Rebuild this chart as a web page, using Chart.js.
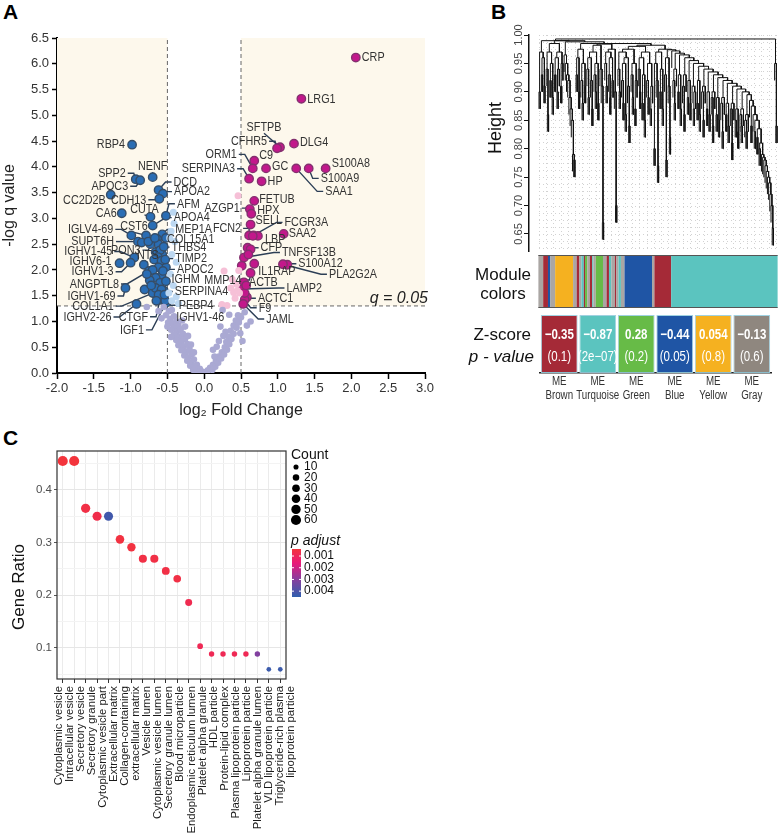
<!DOCTYPE html>
<html>
<head>
<meta charset="utf-8">
<script src="https://cdn.jsdelivr.net/npm/chart.js@4.4.0/dist/chart.umd.min.js"></script>
<style>
  body { margin: 0; background: #fff; width: 781px; height: 834px; overflow: hidden; position: relative; }
  canvas { position: absolute; }
  .tag { position: absolute; font: bold 21px "Liberation Sans", Arial, sans-serif; color: #000; }
</style>
</head>
<body>
<div class="tag" style="left:3px;top:0px">A</div>
<div class="tag" style="left:491px;top:0px">B</div>
<div class="tag" style="left:3px;top:426px">C</div>
<canvas id="volcano" width="440" height="420" style="left:0;top:0"></canvas>
<canvas id="dendro" width="321" height="312" style="left:460px;top:0"></canvas>
<canvas id="zscore" width="321" height="110" style="left:460px;top:300px"></canvas>
<canvas id="dots" width="460" height="414" style="left:0;top:420px"></canvas>
<script>
var sans = '"Liberation Sans", Arial, sans-serif';

// condensed text, like the narrow face in the figure
function narrowText(ctx, txt, x, y, align, squeeze) {
  ctx.save();
  ctx.translate(x, y);
  ctx.scale(squeeze, 1);
  ctx.textAlign = align;
  ctx.fillText(txt, 0, 0);
  ctx.restore();
}

// ---------- A: volcano ----------
var downGenes = ['RBP4','NENF','SPP2','APOC3','DCD','APOA2','CDH13','CC2D2B','CA6','CUTA','AFM','APOA4','CST6','IGLV4-69','MEP1A','COL15A1','SUPT6H','PON3','THBS4','IGHV1-45','NTS','TIMP2','IGHV6-1','IGHV1-3','APOC2','ANGPTL8','IGHM','IGHV1-69','SERPINA4','COL1A1','IGHV2-26','PEBP4','CTGF','IGF1','IGHV1-46'];
var downFc = [-0.98,-0.70,-0.93,-0.87,-0.62,-0.56,-0.61,-1.27,-1.12,-0.73,-0.52,-0.70,-0.79,-0.99,-0.57,-0.64,-0.90,-0.73,-0.62,-0.95,-0.82,-0.57,-1.15,-1.00,-0.52,-0.75,-0.58,-1.07,-0.55,-0.70,-0.92,-0.55,-0.60,-0.52,-0.53];
var downQ = [4.43,3.80,3.76,3.74,3.55,3.48,3.38,3.46,3.10,3.03,3.05,2.86,2.67,2.67,2.69,2.60,2.55,2.50,2.50,2.24,2.10,2.30,2.13,2.14,2.05,1.98,1.89,1.65,1.60,1.55,1.34,1.45,1.42,1.36,1.40];
var downExtraFc = [-0.66,-0.60,-0.55,-0.63,-0.68,-0.58,-0.53,-0.62,-0.70,-0.56,-0.66,-0.74,-0.60,-0.52,-0.81,-0.66,-0.58,-0.72,-0.62,-0.54,-0.65,-0.85,-0.76,-0.67,-0.52,-0.78];
var downExtraQ = [2.35,2.38,2.45,2.25,2.20,2.18,2.20,2.05,2.00,1.98,1.85,1.80,1.75,1.78,1.62,1.65,1.62,1.70,1.52,1.52,1.40,2.53,2.55,2.62,2.62,1.92];
var upGenes = ['CRP','LRG1','SFTPB','CFHR5','DLG4','C9','ORM1','GC','SAA1','S100A9','S100A8','SERPINA3','HP','FETUB','AZGP1','HPX','SELL','FCGR3A','FCN2','LBP','SAA2','CFP','TNFSF13B','S100A12','PLA2G2A','IL1RAP','MMP14','ACTB','LAMP2','ACTC1','F9','JAML'];
var upFc = [2.06,1.32,1.03,0.99,1.22,0.68,0.66,0.84,1.25,1.42,1.65,0.61,0.78,0.68,0.62,0.64,0.63,0.67,0.61,0.73,1.08,0.59,0.54,1.13,1.07,0.68,0.63,0.54,0.52,0.58,0.55,0.53];
var upQ = [6.12,5.32,4.38,4.36,4.45,4.12,3.97,3.97,3.97,3.97,3.97,3.77,3.72,3.34,3.18,3.09,2.88,2.67,2.67,2.66,2.70,2.43,2.24,2.10,2.11,2.12,1.94,1.76,1.63,1.47,1.42,1.34];
var upExtraFc = [0.63,0.51,0.55,0.57,0.66,0.60];
var upExtraQ = [2.40,2.08,1.55,1.70,2.66,2.30];
var nsUpFc = [0.46,0.47,0.38,0.44,0.40,0.45,0.31,0.42,0.36,0.48,0.27,0.24];
var nsUpQ = [3.44,1.99,1.82,1.72,1.56,1.60,1.31,1.45,1.65,1.55,1.98,1.33];
var nsDownFc = [-0.42,-0.45,-0.40,-0.44,-0.38,-0.46,-0.42,-0.48,-0.38,-0.44,-0.47,-0.35,-0.41];
var nsDownQ = [3.12,2.75,2.55,2.30,2.15,1.92,1.70,1.55,1.48,1.40,2.62,1.35,2.90];
var nsGray = [
  [-0.48,1.20],[-0.44,1.22],[-0.52,1.12],[-0.46,1.05],[-0.41,1.10],[-0.49,0.98],[-0.43,0.95],[-0.38,1.00],[-0.40,0.88],[-0.35,0.92],
  [-0.45,0.84],[-0.37,0.80],[-0.32,0.85],[-0.41,0.74],[-0.34,0.70],[-0.29,0.76],[-0.38,0.64],[-0.31,0.60],[-0.26,0.66],[-0.35,0.54],
  [-0.28,0.50],[-0.23,0.56],[-0.31,0.44],[-0.25,0.40],[-0.20,0.46],[-0.27,0.34],[-0.22,0.30],[-0.17,0.36],[-0.23,0.24],[-0.18,0.20],
  [-0.14,0.26],[-0.19,0.14],[-0.14,0.11],[-0.10,0.16],[-0.15,0.06],[-0.10,0.05],[-0.06,0.08],[-0.07,0.02],[-0.03,0.03],[-0.26,0.90],
  [-0.22,0.72],[-0.18,0.55],[-0.14,0.40],[-0.30,1.02],[-0.55,1.28],[-0.62,1.20],[-0.58,1.06],[-0.78,1.28],[-0.50,0.90],[-0.45,0.70],
  [0.02,0.02],[0.05,0.05],[0.08,0.10],[0.11,0.06],[0.12,0.16],[0.15,0.12],[0.16,0.24],[0.19,0.20],[0.20,0.32],[0.23,0.28],
  [0.24,0.40],[0.27,0.36],[0.28,0.50],[0.31,0.45],[0.30,0.60],[0.34,0.56],[0.33,0.70],[0.37,0.66],[0.36,0.82],[0.40,0.76],
  [0.40,0.92],[0.44,0.88],[0.43,1.02],[0.47,0.98],[0.46,1.12],[0.50,1.08],[0.34,1.13],[0.29,0.80],[0.22,0.90],[0.17,0.51],
  [0.49,0.77],[0.63,1.00],[0.55,1.18],[0.25,1.22],[0.14,0.32],[0.20,0.62],[0.26,0.72],[0.58,0.92],[0.12,0.45],[0.52,0.62]
];
var fcTicks = [-2, 3];
var qTicks = [0, 6.5];
var fcCut = 0.5;
var qCut = -Math.log10(0.05);

// label placement: [dx, dy, align] in pixels from the point
var labelPos = {
  'RBP4':[-7,0,'right'],'NENF':[0,-11,'center'],'SPP2':[-10,-6,'right'],'APOC3':[-12,6,'right'],
  'DCD':[15,-8,'left'],'APOA2':[11,-2,'left'],'CDH13':[-13,1,'right'],'CC2D2B':[-5,6,'right'],
  'CA6':[-5,0,'right'],'CUTA':[-6,-8,'center'],'AFM':[11,-12,'left'],'APOA4':[21,-8,'left'],
  'CST6':[-12,-9,'center'],'IGLV4-69':[-18,-6,'right'],'MEP1A':[13,-5,'left'],'COL15A1':[10,0,'left'],
  'SUPT6H':[-24,0,'right'],'PON3':[-10,6,'right'],'THBS4':[13,3,'left'],'IGHV1-45':[-22,-6,'right'],
  'NTS':[4,-9,'center'],'TIMP2':[13,4,'left'],'IGHV6-1':[-8,-2,'right'],'IGHV1-3':[-17,9,'right'],
  'APOC2':[11,2,'left'],'ANGPTL8':[-30,13,'right'],'IGHM':[10,4,'left'],'IGHV1-69':[-10,8,'right'],
  'SERPINA4':[11,1,'left'],'COL1A1':[-39,13,'right'],'IGHV2-26':[-25,13,'right'],'PEBP4':[15,7,'left'],
  'CTGF':[-12,17,'right'],'IGF1':[-22,27,'right'],'IGHV1-46':[11,16,'left'],
  'CRP':[6,0,'left'],'LRG1':[6,0,'left'],'SFTPB':[-16,-20,'center'],'CFHR5':[-10,-7,'right'],
  'DLG4':[6,-1,'left'],'C9':[5,-5,'left'],'ORM1':[-16,-14,'right'],'GC':[6,-2,'left'],
  'SAA1':[29,23,'left'],'S100A9':[12,10,'left'],'S100A8':[6,-5,'left'],'SERPINA3':[-14,-10,'right'],
  'HP':[6,0,'left'],'FETUB':[5,-2,'left'],'AZGP1':[-10,-1,'right'],'HPX':[6,-3,'left'],
  'SELL':[5,-4,'left'],'FCGR3A':[31,-13,'left'],'FCN2':[-8,-7,'right'],'LBP':[7,3,'left'],
  'SAA2':[5,-1,'left'],'CFP':[13,0,'left'],'TNFSF13B':[38,-5,'left'],'S100A12':[11,-1,'left'],
  'PLA2G2A':[46,10,'left'],'IL1RAP':[4,8,'left'],'MMP14':[-9,7,'right'],'ACTB':[5,0,'left'],
  'LAMP2':[44,-1,'left'],'ACTC1':[11,1,'left'],'F9':[14,8,'left'],'JAML':[23,15,'left']
};

function pairs(xs, ys) { return xs.map(function (x, i) { return {x: x, y: ys[i]}; }); }

function eachLabel(chart, fn) {
  var xs = chart.scales.x, ys = chart.scales.y;
  [[downGenes, downFc, downQ], [upGenes, upFc, upQ]].forEach(function (set) {
    set[0].forEach(function (g, i) {
      var p = labelPos[g];
      if (!p) return;
      fn(g, xs.getPixelForValue(set[1][i]), ys.getPixelForValue(set[2][i]), p);
    });
  });
}

var volcanoDecor = {
  id: 'volcanoDecor',
  beforeDatasetsDraw: function (chart) {
    var ctx = chart.ctx, xs = chart.scales.x, ys = chart.scales.y;
    ctx.save();
    ctx.fillStyle = '#fdf8ec';
    var yt = ys.getPixelForValue(qTicks[1]), yc = ys.getPixelForValue(qCut);
    ctx.fillRect(xs.getPixelForValue(fcTicks[0]), yt, xs.getPixelForValue(-fcCut) - xs.getPixelForValue(fcTicks[0]), yc - yt);
    ctx.fillRect(xs.getPixelForValue(fcCut), yt, xs.getPixelForValue(fcTicks[1]) - xs.getPixelForValue(fcCut), yc - yt);
    ctx.strokeStyle = '#666'; ctx.lineWidth = 1; ctx.setLineDash([4, 3]);
    [-fcCut, fcCut].forEach(function (v) {
      var px = xs.getPixelForValue(v);
      ctx.beginPath(); ctx.moveTo(px, ys.getPixelForValue(qTicks[0])); ctx.lineTo(px, yt); ctx.stroke();
    });
    ctx.beginPath(); ctx.moveTo(xs.getPixelForValue(fcTicks[0]), yc); ctx.lineTo(xs.getPixelForValue(fcTicks[1]), yc); ctx.stroke();
    ctx.setLineDash([]);
    ctx.strokeStyle = '#2c3e55'; ctx.lineWidth = 1.4;
    eachLabel(chart, function (g, px, py, p) {
      if (Math.hypot(p[0], p[1]) < 9.5) return;
      var sgn = p[2] === 'left' ? 1 : (p[2] === 'right' ? -1 : 0);
      var ex = px + p[0] - sgn * 2, ey = py + p[1] + (sgn === 0 ? (p[1] < 0 ? 6 : -6) : 0);
      ctx.beginPath(); ctx.moveTo(px, py);
      if (sgn !== 0) ctx.lineTo(ex - sgn * 6, ey);
      ctx.lineTo(ex, ey); ctx.stroke();
    });
    ctx.restore();
  },
  afterDatasetsDraw: function (chart) {
    var ctx = chart.ctx, ys = chart.scales.y;
    ctx.save();
    ctx.font = '13.5px ' + sans; ctx.fillStyle = '#333'; ctx.textBaseline = 'middle';
    eachLabel(chart, function (g, px, py, p) {
      narrowText(ctx, g, px + p[0], py + p[1], p[2], 0.8);
    });
    ctx.font = 'italic 16px ' + sans; ctx.textBaseline = 'alphabetic';
    ctx.fillStyle = '#222';
    ctx.textAlign = 'right';
    ctx.fillText('q = 0.05', chart.chartArea.right + 3, ys.getPixelForValue(qCut) - 3);
    ctx.restore();
  }
};

var blueDot = {backgroundColor: '#2a6db4', borderColor: '#354d68', borderWidth: 1.4, pointRadius: 4.2};
var pinkDot = {backgroundColor: '#c2188b', borderColor: '#83306e', borderWidth: 1.4, pointRadius: 4.2};

new Chart(document.getElementById('volcano'), {
  type: 'scatter',
  data: {
    datasets: [
      {data: nsGray.map(function (p) { return {x: p[0], y: p[1]}; }), backgroundColor: '#aaa9d3', borderWidth: 0, pointRadius: 3.3},
      {data: pairs(nsDownFc, nsDownQ), backgroundColor: '#bcd7f1', borderWidth: 0, pointRadius: 3.5},
      {data: pairs(nsUpFc, nsUpQ), backgroundColor: '#f6c0d7', borderWidth: 0, pointRadius: 3.5},
      Object.assign({data: pairs(downExtraFc, downExtraQ)}, blueDot),
      Object.assign({data: pairs(downFc, downQ)}, blueDot),
      Object.assign({data: pairs(upExtraFc, upExtraQ)}, pinkDot),
      Object.assign({data: pairs(upFc, upQ)}, pinkDot)
    ]
  },
  options: {
    responsive: false,
    animation: false,
    layout: {padding: {top: 38, right: 15, left: 0, bottom: 0}},
    plugins: {legend: {display: false}, tooltip: {enabled: false}},
    scales: {
      x: {
        type: 'linear', min: fcTicks[0], max: fcTicks[1],
        ticks: {stepSize: 0.5, autoSkip: false, maxRotation: 0, color: '#333', font: {size: 13, family: sans}, padding: 2,
          callback: function (v) { return v.toFixed(1); }},
        grid: {drawOnChartArea: false, drawTicks: true, tickLength: 6, tickColor: '#000', tickWidth: 1.5},
        border: {color: '#000', width: 2},
        title: {display: true, text: 'log\u2082 Fold Change', color: '#222', font: {size: 16, family: sans}, padding: {top: 1, bottom: 0}},
        afterFit: function (s) { s.height = 47; }
      },
      y: {
        min: qTicks[0], max: qTicks[1],
        ticks: {stepSize: 0.5, autoSkip: false, color: '#333', font: {size: 13, family: sans}, padding: 3,
          callback: function (v) { return v.toFixed(1); }},
        grid: {drawOnChartArea: false, drawTicks: true, tickLength: 5, tickColor: '#000', tickWidth: 1.5},
        border: {color: '#000', width: 2},
        title: {display: true, text: '-log q value', color: '#222', font: {size: 16, family: sans}, padding: {top: 0, bottom: 2}},
        afterFit: function (s) { s.width = 57; }
      }
    }
  },
  plugins: [volcanoDecor]
});

// ---------- B: dendrogram + module colours ----------
// height at which neighbouring leaves join (leaf i with leaf i+1)
var mergeHeights = [
  0.90,0.97,0.93,0.96,0.91,0.99,0.94,0.86,0.97,0.92,0.95,0.89,0.985,0.93,0.96,0.90,0.94,0.97,0.91,0.95,0.99,
  0.965,0.95,0.93,0.92,0.89,0.87,0.85,0.79,0.78,0.988,
  0.93,0.96,0.90,0.975,0.92,0.88,0.95,0.91,0.985,0.94,0.89,0.96,0.92,0.87,0.97,0.93,0.90,0.95,0.88,0.982,0.94,0.91,
  0.67,0.984,
  0.95,0.91,0.97,0.93,0.89,0.96,0.92,0.975,0.90,
  0.70,0.985,
  0.94,0.90,0.97,0.92,0.88,0.95,0.86,0.96,0.91,0.84,0.975,0.93,0.89,0.95,0.87,0.92,0.98,0.94,0.90,0.96,
  0.88,0.93,0.85,0.97,0.92,0.89,0.95,0.87,0.91,0.982,
  0.80,0.95,0.92,0.77,0.97,0.90,0.94,0.87,0.975,0.93,0.78,0.96,0.91,0.82,0.974,
  0.972,0.92,0.88,0.94, 0.968,0.90,0.93,0.87, 0.965,0.91,0.86,0.93, 0.96,0.89,0.92,0.88,
  0.955,0.91,0.87,0.90, 0.95,0.88,0.92,0.86, 0.945,0.90,0.85,0.91, 0.94,0.87,0.90,0.86,
  0.935,0.89,0.84,0.90, 0.93,0.86,0.89,0.85, 0.925,0.88,0.83,0.89, 0.92,0.86,0.88,0.84,
  0.915,0.87,0.81,0.88, 0.91,0.85,0.87,0.83, 0.905,0.86,0.84,0.87, 0.90,0.85,0.83,0.86, 0.895,
  0.885,0.84,0.875,0.86,0.83,0.85,0.82,0.835,0.80,0.81,0.79,0.785,0.78,0.77,0.76,0.75,0.74,0.72,0.70,0.66,
  0.993,0.95,0.84
];
var leafHang = 0.03;
var heightTicks = [0.65,0.70,0.75,0.80,0.85,0.90,0.95,1.00];
// module colour strip, runs of leaves
var moduleRuns = [
  ['gray',4],['brown',4],['blue',2],['gray',4],['yellow',15],['gray',3],['brown',2],
  ['gray',2],['turquoise',2],['brown',1],['green',2],['gray',2],['brown',2],['turquoise',1],['gray',2],['green',1],
  ['green',5],['gray',3],
  ['brown',2],['turquoise',2],['gray',3],['brown',1],['gray',2],['turquoise',2],['gray',3],
  ['blue',23],['gray',2],['brown',14],['turquoise',89]
];
var moduleColor = {brown: '#a52a37', turquoise: '#5bc4bf', green: '#67bb47', blue: '#1f55a5', yellow: '#f5b120', gray: '#aaa6a3'};

function buildTree(lo, hi, segs) {
  if (lo === hi) {
    var left = lo > 0 ? mergeHeights[lo - 1] : Infinity;
    var right = lo < mergeHeights.length ? mergeHeights[lo] : Infinity;
    return {x: lo, y: Math.min(left, right) - leafHang};
  }
  var k = lo;
  for (var i = lo; i < hi; i++) if (mergeHeights[i] > mergeHeights[k]) k = i;
  var a = buildTree(lo, k, segs), b = buildTree(k + 1, hi, segs), h = mergeHeights[k];
  segs.push({x: a.x, y: a.y}, {x: a.x, y: h}, {x: b.x, y: h}, {x: b.x, y: b.y}, {x: null, y: null});
  return {x: (a.x + b.x) / 2, y: h};
}
var dendroSegs = [];
buildTree(0, mergeHeights.length, dendroSegs);
var nLeaves = mergeHeights.length + 1;
var leafPx = 238 / (nLeaves - 1);

var dendroDecor = {
  id: 'dendroDecor',
  beforeDatasetsDraw: function (chart) {
    var ctx = chart.ctx, xs = chart.scales.x, ys = chart.scales.y, ca = chart.chartArea;
    ctx.save();
    ctx.strokeStyle = '#d2d2d2'; ctx.lineWidth = 1; ctx.setLineDash([1, 3]);
    for (var v = 0.625; v < 1.0; v += 0.0125) {
      var py = Math.round(ys.getPixelForValue(v)) + 0.5;
      ctx.beginPath(); ctx.moveTo(xs.getPixelForValue(0), py); ctx.lineTo(ca.right, py); ctx.stroke();
    }
    for (var i = 0; i < nLeaves; i += 6) {
      var px = Math.round(xs.getPixelForValue(i)) + 0.5;
      ctx.beginPath(); ctx.moveTo(px, ca.top); ctx.lineTo(px, ca.bottom); ctx.stroke();
    }
    ctx.restore();
  },
  afterDraw: function (chart) {
    var ctx = chart.ctx, xs = chart.scales.x, ys = chart.scales.y;
    ctx.save();
    ctx.font = '11px ' + sans; ctx.fillStyle = '#444'; ctx.textAlign = 'center'; ctx.textBaseline = 'middle';
    heightTicks.forEach(function (t) {
      ctx.save(); ctx.translate(59, ys.getPixelForValue(t)); ctx.rotate(-Math.PI / 2);
      ctx.fillText(t.toFixed(2), 0, 0); ctx.restore();
    });
    ctx.font = '18px ' + sans; ctx.fillStyle = '#111';
    ctx.save(); ctx.translate(36, 128); ctx.rotate(-Math.PI / 2); ctx.fillText('Height', 0, 0); ctx.restore();
    var top = 255, bottom = 308, start = 0;
    moduleRuns.forEach(function (r) {
      var x0 = xs.getPixelForValue(start - 0.5), x1 = xs.getPixelForValue(start + r[1] - 0.5);
      ctx.fillStyle = moduleColor[r[0]];
      ctx.fillRect(x0, top, x1 - x0, bottom - top);
      start += r[1];
    });
    var sx0 = xs.getPixelForValue(-0.5), sx1 = xs.getPixelForValue(nLeaves - 0.5);
    ctx.strokeStyle = '#555'; ctx.lineWidth = 1;
    ctx.beginPath(); ctx.moveTo(sx0, top + 0.5); ctx.lineTo(sx1, top + 0.5);
    ctx.moveTo(sx0, bottom - 0.5); ctx.lineTo(sx1, bottom - 0.5); ctx.stroke();
    ctx.fillStyle = '#111'; ctx.font = '17px ' + sans; ctx.textAlign = 'center';
    ctx.fillText('Module', 43, 275); ctx.fillText('colors', 43, 294);
    ctx.restore();
  }
};

new Chart(document.getElementById('dendro'), {
  type: 'scatter',
  data: {datasets: [{data: dendroSegs, showLine: true, spanGaps: false, borderColor: '#111', borderWidth: 1, pointRadius: 0}]},
  options: {
    responsive: false,
    animation: false,
    layout: {padding: {top: 35, right: 2, left: 0, bottom: 61}},
    plugins: {legend: {display: false}, tooltip: {enabled: false}},
    scales: {
      x: {type: 'linear', display: false, min: -10 / leafPx, max: nLeaves - 1 + 2 / leafPx},
      y: {
        min: 0.62, max: 1.0,
        afterBuildTicks: function (s) { s.ticks = heightTicks.map(function (v) { return {value: v}; }); },
        ticks: {color: 'rgba(0,0,0,0)', font: {size: 11}},
        grid: {drawOnChartArea: false, drawTicks: true, tickLength: 5, tickColor: '#111'},
        border: {color: '#111', width: 1.5},
        afterFit: function (s) { s.width = 69; }
      }
    }
  },
  plugins: [dendroDecor]
});

// eigengene association table
var moduleNames = ['Brown','Turquoise','Green','Blue','Yellow','Gray'];
var zScores = [-0.35,-0.87,0.28,-0.44,0.054,-0.13];
var pValues = [0.1,2e-7,0.2,0.05,0.8,0.6];
var cellColors = ['#a52a37','#5bc4bf','#67bb47','#1f55a5','#f5b120','#8f877f'];

function fmtZ(v) { return (v < 0 ? '\u2212' : '') + Math.abs(v); }
function fmtP(v) {
  if (v >= 0.001) return '(' + v + ')';
  var e = Math.floor(Math.log10(v)), m = Math.round(v / Math.pow(10, e));
  return '(' + m + 'e\u2212' + String(-e).padStart(2, '0') + ')';
}

var zDecor = {
  id: 'zDecor',
  afterDatasetsDraw: function (chart) {
    var ctx = chart.ctx;
    ctx.save();
    ctx.fillStyle = '#fff'; ctx.textBaseline = 'middle';
    chart.getDatasetMeta(0).data.forEach(function (bar, i) {
      ctx.font = 'bold 14px ' + sans;
      narrowText(ctx, fmtZ(zScores[i]), bar.x, 35, 'center', 0.82);
      ctx.font = '14px ' + sans;
      narrowText(ctx, fmtP(pValues[i]), bar.x, 57, 'center', 0.82);
    });
    ctx.fillStyle = '#111'; ctx.textAlign = 'right';
    ctx.font = '17px ' + sans; ctx.fillText('Z-score', 71, 35);
    ctx.font = 'italic 17px ' + sans; ctx.fillText('p - value', 74, 57);
    ctx.restore();
  },
  afterDraw: function (chart) {
    var ctx = chart.ctx, xs = chart.scales.x;
    ctx.save();
    ctx.fillStyle = '#333'; ctx.font = '12.5px ' + sans; ctx.textBaseline = 'middle';
    moduleNames.forEach(function (m, i) {
      var px = xs.getPixelForValue(i);
      narrowText(ctx, 'ME', px, 82, 'center', 0.78);
      narrowText(ctx, m, px, 96, 'center', 0.78);
    });
    ctx.restore();
  }
};

new Chart(document.getElementById('zscore'), {
  type: 'bar',
  data: {
    labels: moduleNames,
    datasets: [{data: zScores.map(function () { return [0, 1]; }), backgroundColor: cellColors,
      borderColor: 'rgba(150,205,222,0.9)', borderWidth: 1, borderSkipped: false,
      categoryPercentage: 1, barPercentage: 0.955}]
  },
  options: {
    responsive: false,
    animation: false,
    layout: {padding: {top: 15, right: 10, left: 80, bottom: 0}},
    plugins: {legend: {display: false}, tooltip: {enabled: false}},
    scales: {
      x: {
        grid: {display: false},
        border: {color: '#222', width: 1.5},
        ticks: {display: false},
        afterFit: function (s) { s.height = 37; }
      },
      y: {display: false, min: 0, max: 1}
    }
  },
  plugins: [zDecor]
});

// ---------- C: GO enrichment dot plot ----------
var goTerms = ['Cytoplasmic vesicle','Intracellular vesicle','Secretory vesicle','Secretory granule','Cytoplasmic vesicle part',
  'Extracellular matrix',['Collagen-containing','extracellular matrix'],'Vesicle lumen','Cytoplasmic vesicle lumen','Secretory granule lumen',
  'Blood microparticle','Endoplasmic reticulum lumen','Platelet alpha granule','HDL particle','Protein-lipid complex',
  'Plasma lipoprotein particle','Lipoprotein particle','Platelet alpha granule lumen','VLD lipoprotein particle',['Triglyceride-rich plasma','lipoprotein particle']];
var geneRatio = [0.455,0.455,0.365,0.350,0.350,0.306,0.291,0.269,0.269,0.246,0.231,0.186,0.103,0.088,0.088,0.088,0.088,0.088,0.059,0.059];
var geneCount = [60,60,48,46,46,40,38,35,35,32,30,24,14,12,12,12,12,12,8,8];
var pAdjust = [0.0004,0.0004,0.0006,0.0007,0.0042,0.0005,0.0005,0.0006,0.0006,0.0006,0.0006,0.0008,0.0009,0.0009,0.0009,0.0009,0.0009,0.0031,0.0043,0.0043];
var ratioMajor = [0.1,0.2,0.3,0.4];
var ratioGrid = [0.05,0.1,0.15,0.2,0.25,0.3,0.35,0.4,0.45];
var countLegend = [10,20,30,40,50,60];
var pLegend = [0.001,0.002,0.003,0.004];
var pRange = [0.0004, 0.0045];
var pStops = [[0, [243,52,60]], [0.3, [232,25,122]], [0.62, [138,60,157]], [1, [47,95,174]]];

function countRadius(c) { return 0.8 + 0.55 * Math.sqrt(c); }
function pColor(p) {
  var t = Math.max(0, Math.min(1, (p - pRange[0]) / (pRange[1] - pRange[0])));
  for (var i = 1; i < pStops.length; i++) {
    if (t <= pStops[i][0]) {
      var a = pStops[i - 1], b = pStops[i], f = (t - a[0]) / (b[0] - a[0]);
      var c = a[1].map(function (v, j) { return Math.round(v + (b[1][j] - v) * f); });
      return 'rgb(' + c.join(',') + ')';
    }
  }
  return 'rgb(' + pStops[pStops.length - 1][1].join(',') + ')';
}
function isMajor(v) { return ratioMajor.some(function (m) { return Math.abs(m - v) < 1e-6; }); }

var dotsDecor = {
  id: 'dotsDecor',
  afterDraw: function (chart) {
    var ctx = chart.ctx, ca = chart.chartArea, xs = chart.scales.x;
    ctx.save();
    ctx.strokeStyle = '#333'; ctx.lineWidth = 1.2;
    ctx.strokeRect(ca.left, ca.top, ca.right - ca.left, ca.bottom - ca.top);
    // rotated category labels: every text line gets its own evenly spaced column
    var lines = [];
    goTerms.forEach(function (t) { (Array.isArray(t) ? t : [t]).forEach(function (ln) { lines.push(ln); }); });
    var first = xs.getPixelForValue(0) - 4, last = xs.getPixelForValue(goTerms.length - 1) + 10.7;
    var step = (last - first) / (lines.length - 1);
    ctx.font = '11.3px ' + sans; ctx.fillStyle = '#1a1a1a'; ctx.textAlign = 'right'; ctx.textBaseline = 'middle';
    lines.forEach(function (ln, k) {
      ctx.save(); ctx.translate(first + k * step, ca.bottom + 7); ctx.rotate(-Math.PI / 2);
      ctx.fillText(ln, 0, 0); ctx.restore();
    });
    ctx.fillStyle = '#111'; ctx.font = '17px ' + sans; ctx.textAlign = 'center';
    ctx.save(); ctx.translate(19, 167); ctx.rotate(-Math.PI / 2); ctx.fillText('Gene Ratio', 0, 0); ctx.restore();
    ctx.textAlign = 'left'; ctx.font = '14px ' + sans;
    ctx.fillText('Count', 291, 35);
    ctx.font = '12px ' + sans;
    countLegend.forEach(function (c, i) {
      var y = 47 + i * 10.6;
      ctx.fillStyle = '#000';
      ctx.beginPath(); ctx.arc(296, y, countRadius(c), 0, Math.PI * 2); ctx.fill();
      ctx.fillStyle = '#111'; ctx.fillText(String(c), 304, y);
    });
    ctx.font = 'italic 14px ' + sans;
    ctx.fillText('p adjust', 291, 121);
    var bx = 292, bw = 9, by0 = 129, by1 = 177;
    var grad = ctx.createLinearGradient(0, by0, 0, by1);
    pStops.forEach(function (s) { grad.addColorStop(s[0], 'rgb(' + s[1].join(',') + ')'); });
    ctx.fillStyle = grad; ctx.fillRect(bx, by0, bw, by1 - by0);
    ctx.font = '12px ' + sans;
    pLegend.forEach(function (p) {
      var y = by0 + (p - pRange[0]) / (pRange[1] - pRange[0]) * (by1 - by0);
      ctx.strokeStyle = '#fff'; ctx.lineWidth = 1;
      ctx.beginPath(); ctx.moveTo(bx, y); ctx.lineTo(bx + 2, y); ctx.moveTo(bx + bw - 2, y); ctx.lineTo(bx + bw, y); ctx.stroke();
      ctx.fillStyle = '#111'; ctx.fillText(p.toFixed(3), 304, y);
    });
    ctx.restore();
  }
};

new Chart(document.getElementById('dots'), {
  type: 'line',
  data: {
    labels: goTerms,
    datasets: [{data: geneRatio, showLine: false, pointRadius: geneCount.map(countRadius), pointHoverRadius: geneCount.map(countRadius),
      pointBackgroundColor: pAdjust.map(pColor), pointBorderWidth: 0}]
  },
  options: {
    responsive: false,
    animation: false,
    layout: {padding: {top: 31, right: 174, left: 0, bottom: 0}},
    plugins: {legend: {display: false}, tooltip: {enabled: false}},
    scales: {
      x: {
        type: 'category', offset: true,
        grid: {offset: false, color: '#ebebeb', tickLength: 4, tickColor: '#333'},
        border: {display: false},
        ticks: {display: false},
        afterFit: function (s) { s.height = 155; }
      },
      y: {
        min: 0.0405, max: 0.474,
        afterBuildTicks: function (s) { s.ticks = ratioGrid.map(function (v) { return {value: v}; }); },
        ticks: {color: '#4d4d4d', font: {size: 11.5, family: sans}, padding: 2,
          callback: function (v) { return isMajor(v) ? v.toFixed(1) : ''; }},
        grid: {color: function (c) { return c.tick && isMajor(c.tick.value) ? '#e6e6e6' : '#f3f3f3'; },
          tickLength: 3, tickColor: function (c) { return c.tick && isMajor(c.tick.value) ? '#555' : 'rgba(0,0,0,0)'; }},
        border: {display: false},
        afterFit: function (s) { s.width = 57; }
      }
    }
  },
  plugins: [dotsDecor]
});
</script>
</body>
</html>
